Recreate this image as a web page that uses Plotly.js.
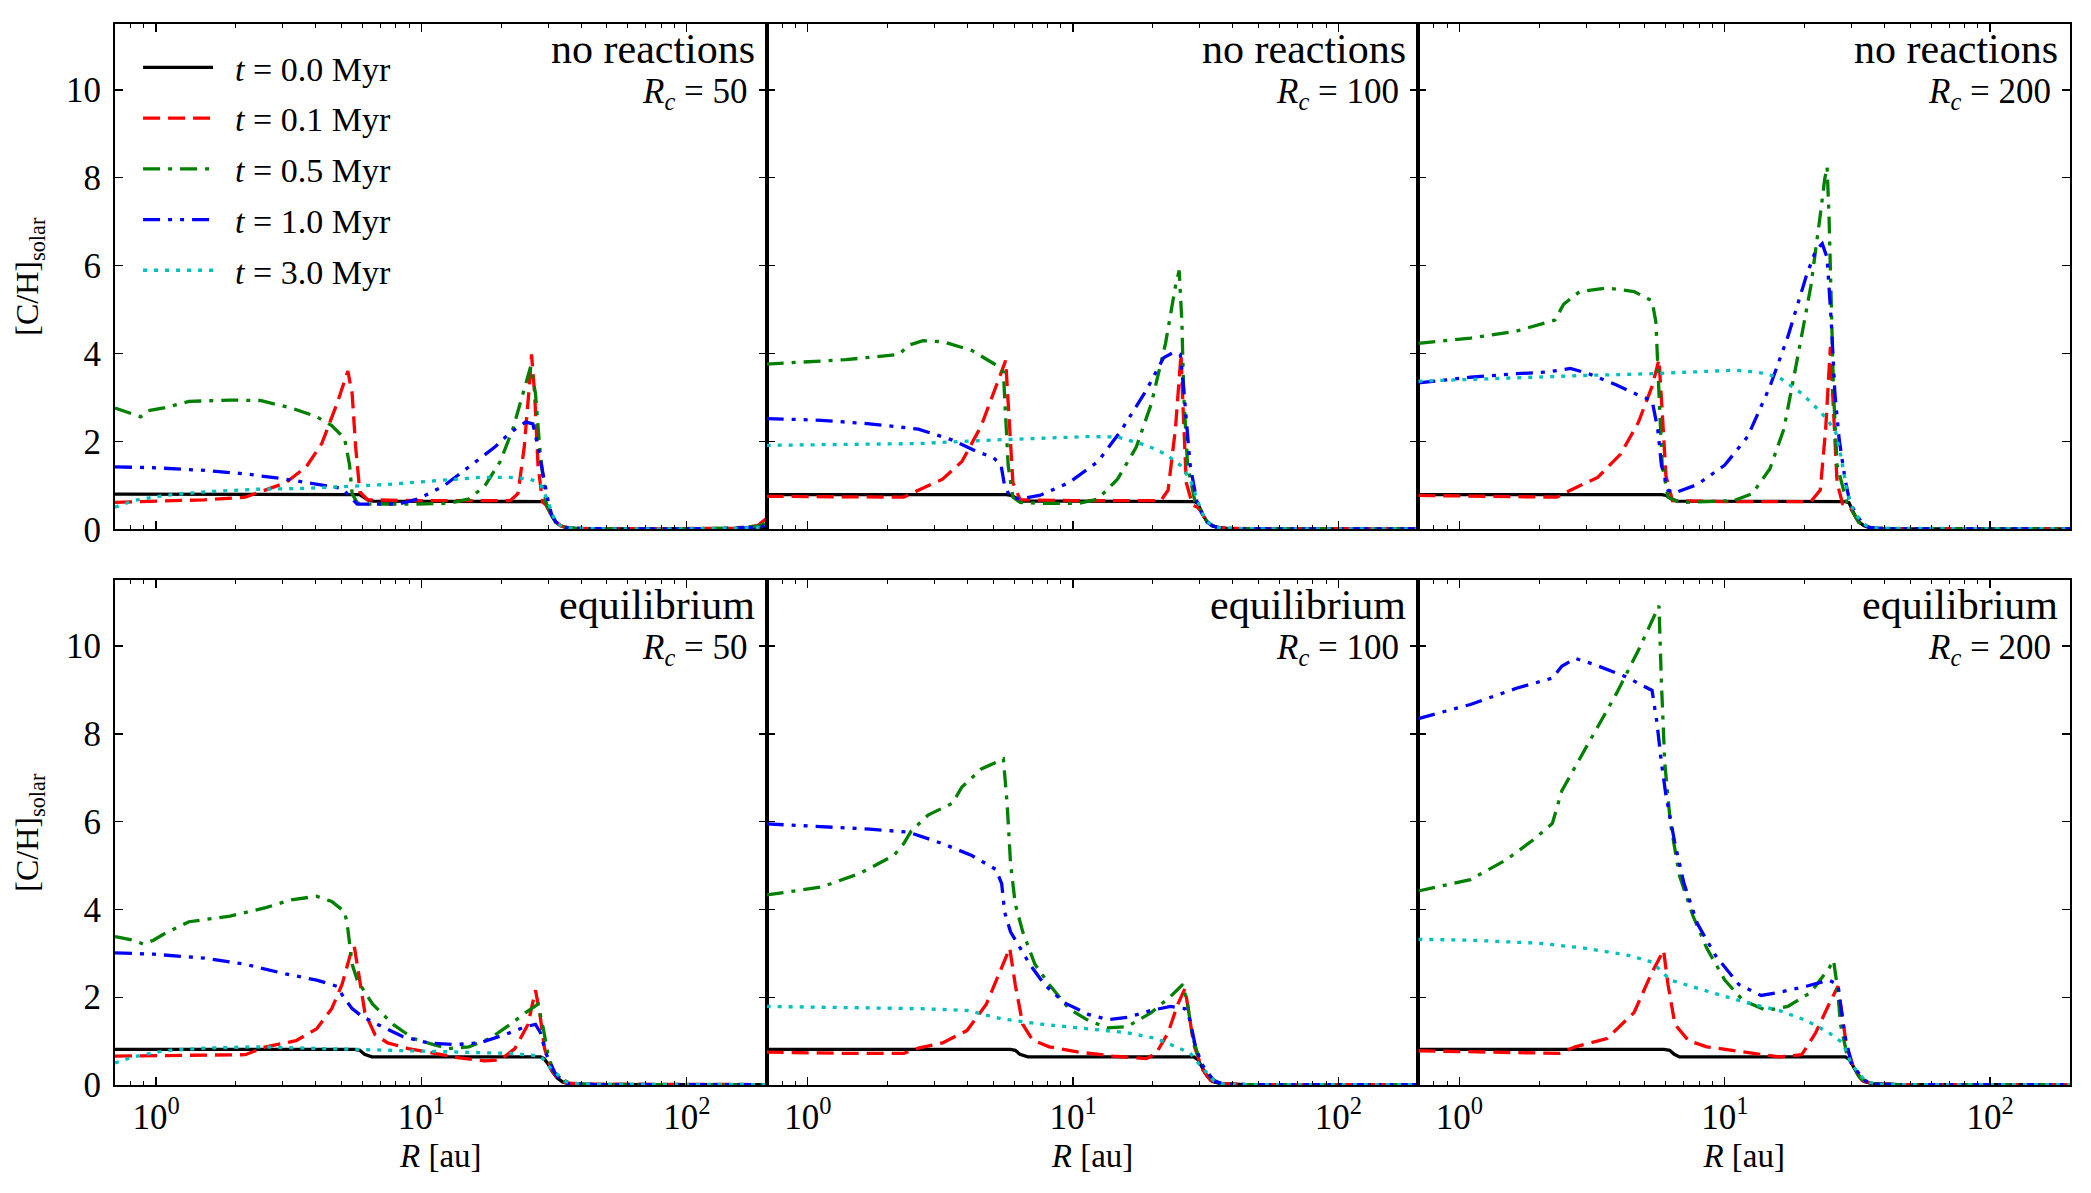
<!DOCTYPE html>
<html>
<head>
<meta charset="utf-8">
<script src="https://cdn.plot.ly/plotly-3.0.1.min.js"></script>
<style>
  html, body { margin: 0; padding: 0; background: #ffffff; }
  #chart { width: 2091px; height: 1193px; }
</style>
</head>
<body>
<div id="chart"></div>
<script>
// ---------------------------------------------------------------
// Labels
// ---------------------------------------------------------------
const times = ['0.0', '0.1', '0.5', '1.0', '3.0'];           // Myr
const chemModes = ['no reactions', 'equilibrium'];
const rcValues = [50, 100, 200];                             // R_c
const xTickVals = [1, 10, 100];
const xTickText = ['10<sup>0</sup>', '10<sup>1</sup>', '10<sup>2</sup>'];
const yTickVals = [0, 2, 4, 6, 8, 10];

// ---------------------------------------------------------------
// [C/H]_solar profiles, R in au
// ---------------------------------------------------------------
// no reactions, R_c = 50
const nr50_t00_R  = [0.7, 5.6, 5.85, 6.05, 6.3, 6.6, 10, 20, 28.6, 29.4, 30.2, 31, 32, 33.5, 35, 38, 50, 100, 150, 185, 200];
const nr50_t00_CH = [0.80, 0.80, 0.79, 0.73, 0.66, 0.64, 0.64, 0.64, 0.63, 0.60, 0.45, 0.30, 0.17, 0.08, 0.04, 0.02, 0.01, 0.01, 0.01, 0.02, 0.05];
const nr50_t01_R  = [0.7, 1.52, 2.17, 2.47, 3.08, 3.68, 4.21, 4.80, 5.28, 5.48, 5.65, 5.86, 6.27, 10, 21.6, 23.1, 24.4, 25.5, 26.0, 26.7, 27.5, 28.6, 29.4, 30.2, 31, 32, 33.5, 35, 38, 50, 100, 150, 185, 200];
const nr50_t01_CH = [0.61, 0.67, 0.73, 0.85, 1.06, 1.42, 1.95, 2.85, 3.60, 3.09, 1.87, 0.85, 0.67, 0.65, 0.65, 0.81, 1.87, 3.25, 3.98, 3.09, 1.46, 0.62, 0.56, 0.43, 0.29, 0.17, 0.08, 0.04, 0.02, 0.01, 0.01, 0.02, 0.08, 0.25];
const nr50_t05_R  = [0.7, 0.875, 0.935, 1.07, 1.33, 1.90, 2.47, 3.23, 4.03, 4.59, 5.13, 5.36, 5.48, 5.73, 6.27, 8.9, 12.7, 15.1, 17.3, 19.8, 22.1, 24.1, 25.8, 26.9, 27.9, 29.4, 30.2, 31, 32, 33.5, 35, 38, 50, 100, 150, 185, 200];
const nr50_t05_CH = [2.76, 2.56, 2.70, 2.76, 2.91, 2.94, 2.93, 2.76, 2.56, 2.36, 2.07, 1.46, 0.81, 0.60, 0.57, 0.57, 0.59, 0.69, 0.98, 1.54, 2.28, 3.09, 3.70, 3.09, 1.87, 0.62, 0.45, 0.30, 0.17, 0.08, 0.04, 0.02, 0.01, 0.01, 0.03, 0.07, 0.15];
const nr50_t10_R  = [0.7, 0.98, 1.52, 2.17, 3.08, 4.03, 5.02, 5.48, 5.73, 6.27, 8.17, 9.73, 12.1, 15.1, 18.9, 21.6, 24.7, 26.3, 27.5, 28.8, 30.1, 31, 32.1, 33.5, 35, 38, 50, 100, 150, 190, 200];
const nr50_t10_CH = [1.42, 1.40, 1.34, 1.26, 1.14, 1.02, 0.93, 0.69, 0.57, 0.57, 0.57, 0.69, 0.98, 1.42, 1.87, 2.20, 2.44, 2.40, 1.87, 1.22, 0.60, 0.32, 0.17, 0.08, 0.04, 0.02, 0.01, 0.01, 0.02, 0.05, 0.10];
const nr50_t30_R  = [0.7, 0.82, 1.07, 1.52, 2.37, 3.68, 5.48, 7.46, 11.1, 16.6, 21.6, 25.8, 28.1, 30.1, 31, 32.1, 33.5, 35, 38, 50, 100, 150, 200];
const nr50_t30_CH = [0.50, 0.65, 0.77, 0.85, 0.91, 0.93, 0.98, 1.02, 1.10, 1.18, 1.18, 1.14, 1.02, 0.62, 0.36, 0.18, 0.08, 0.04, 0.02, 0.01, 0.01, 0.02, 0.05];

// no reactions, R_c = 100
const nr100_t00_R  = [0.7, 5.6, 5.85, 6.1, 6.4, 10, 20, 28.6, 29.4, 30.2, 31, 32, 33.5, 35, 38, 50, 200];
const nr100_t00_CH = [0.79, 0.79, 0.77, 0.70, 0.64, 0.64, 0.64, 0.63, 0.60, 0.45, 0.30, 0.17, 0.08, 0.04, 0.02, 0.01, 0.01];
const nr100_t01_R  = [0.7, 1.39, 2.30, 2.61, 3.22, 3.81, 4.51, 5.12, 5.57, 5.77, 5.93, 6.32, 10, 21.4, 22.8, 24.3, 24.9, 25.5, 26.0, 26.7, 28.2, 29.4, 30.2, 31, 32, 33.5, 35, 38, 50, 200];
const nr100_t01_CH = [0.75, 0.73, 0.73, 0.89, 1.14, 1.54, 2.36, 3.25, 3.84, 2.28, 1.06, 0.67, 0.65, 0.65, 0.89, 2.28, 3.20, 3.98, 2.68, 1.06, 0.55, 0.50, 0.42, 0.29, 0.16, 0.08, 0.04, 0.02, 0.01, 0.01];
const nr100_t05_R  = [0.7, 1.39, 2.21, 2.40, 2.72, 3.22, 4.15, 5.12, 5.46, 5.57, 5.69, 5.93, 6.32, 7.48, 10.5, 12.4, 14.7, 17.3, 19.7, 22.3, 24.3, 25.1, 25.7, 26.1, 27.0, 28.8, 30.2, 31, 32, 33.5, 35, 38, 50, 200];
const nr100_t05_CH = [3.76, 3.86, 3.98, 4.19, 4.29, 4.27, 4.07, 3.74, 3.58, 2.68, 1.46, 0.73, 0.61, 0.59, 0.59, 0.69, 1.14, 1.87, 2.85, 4.23, 5.53, 5.89, 4.72, 3.09, 1.46, 0.62, 0.45, 0.30, 0.17, 0.08, 0.04, 0.02, 0.01, 0.01];
const nr100_t10_R  = [0.7, 1.125, 1.71, 2.61, 3.51, 4.33, 5.01, 5.35, 5.52, 5.81, 6.32, 7.48, 9.64, 12.4, 15.3, 18.9, 21.9, 23.8, 25.35, 26.2, 27.6, 29.4, 30.2, 31, 32, 33.5, 35, 38, 50, 200];
const nr100_t10_CH = [2.52, 2.48, 2.40, 2.28, 2.03, 1.77, 1.63, 1.46, 0.98, 0.73, 0.69, 0.77, 1.06, 1.54, 2.28, 3.17, 3.90, 4.02, 3.98, 3.09, 1.46, 0.57, 0.45, 0.30, 0.17, 0.08, 0.04, 0.02, 0.01, 0.01];
const nr100_t30_R  = [0.7, 1.39, 2.61, 4.91, 7.48, 11.4, 14.7, 18.9, 22.3, 25.35, 27.6, 29.4, 30.2, 31, 32, 33.5, 35, 38, 50, 200];
const nr100_t30_CH = [1.91, 1.93, 1.95, 2.03, 2.07, 2.11, 2.10, 1.91, 1.71, 1.46, 1.14, 0.65, 0.47, 0.31, 0.18, 0.08, 0.04, 0.02, 0.01, 0.01];

// no reactions, R_c = 200
const nr200_t00_R  = [0.7, 5.8, 6.0, 6.25, 6.6, 10, 20, 28.6, 29.4, 30.2, 31, 32, 33.5, 35, 38, 50, 200];
const nr200_t00_CH = [0.79, 0.79, 0.77, 0.70, 0.64, 0.64, 0.64, 0.63, 0.60, 0.45, 0.30, 0.17, 0.08, 0.04, 0.02, 0.01, 0.01];
const nr200_t01_R  = [0.7, 2.33, 2.62, 3.32, 4.05, 4.73, 5.32, 5.65, 5.81, 6.0, 6.35, 10, 21.1, 22.9, 24.0, 25.0, 25.7, 26.5, 27.8, 29.4, 30.2, 31, 32, 33.5, 35, 38, 50, 200];
const nr200_t01_CH = [0.77, 0.73, 0.89, 1.18, 1.71, 2.44, 3.25, 3.86, 2.68, 1.22, 0.65, 0.63, 0.63, 0.89, 2.28, 4.15, 2.68, 1.06, 0.58, 0.52, 0.42, 0.29, 0.16, 0.08, 0.04, 0.02, 0.01, 0.01];
const nr200_t05_R  = [0.7, 1.10, 1.64, 2.29, 2.47, 2.84, 3.60, 4.55, 5.32, 5.50, 5.65, 5.81, 6.11, 6.75, 10.8, 12.7, 14.8, 16.7, 18.8, 21.1, 22.9, 23.8, 24.3, 24.7, 25.2, 25.7, 26.5, 29.0, 30.2, 31, 32, 33.5, 35, 38, 50, 200];
const nr200_t05_CH = [4.23, 4.35, 4.51, 4.76, 5.12, 5.41, 5.49, 5.41, 5.20, 4.72, 3.09, 1.46, 0.73, 0.61, 0.65, 0.81, 1.38, 2.28, 3.90, 5.53, 7.15, 7.97, 8.25, 7.15, 5.12, 3.09, 1.46, 0.55, 0.42, 0.29, 0.16, 0.08, 0.04, 0.02, 0.01, 0.01];
const nr200_t10_R  = [0.7, 1.10, 1.64, 2.15, 2.62, 3.07, 3.89, 4.73, 5.32, 5.59, 5.77, 6.11, 6.49, 7.89, 10, 12.2, 14.8, 17.3, 20.3, 22.0, 23.3, 24.3, 25.2, 26.0, 27.0, 28.4, 29.4, 30.2, 31.3, 32, 33.5, 35, 38, 50, 200];
const nr200_t10_CH = [3.33, 3.46, 3.54, 3.58, 3.66, 3.54, 3.29, 3.05, 2.93, 2.28, 1.46, 0.89, 0.83, 1.02, 1.46, 2.11, 3.25, 4.39, 5.77, 6.34, 6.50, 6.18, 4.72, 3.09, 2.03, 1.14, 0.70, 0.52, 0.35, 0.25, 0.10, 0.04, 0.02, 0.01, 0.01];
const nr200_t30_R  = [0.7, 1.10, 1.64, 2.95, 5.32, 7.89, 10.8, 13.2, 16.0, 19.5, 22.9, 24.7, 26.2, 27.3, 29.0, 30.2, 31, 32.6, 34, 36, 40, 200];
const nr200_t30_CH = [3.37, 3.41, 3.46, 3.50, 3.54, 3.59, 3.62, 3.58, 3.46, 3.09, 2.68, 2.44, 2.20, 1.71, 0.81, 0.50, 0.35, 0.20, 0.09, 0.04, 0.02, 0.01];

// equilibrium, R_c = 50
const eq50_t00_R  = [0.7, 5.6, 5.86, 6.1, 6.5, 10, 20, 28.1, 29.0, 30.0, 31.0, 32.5, 34, 36, 45, 200];
const eq50_t00_CH = [0.81, 0.81, 0.79, 0.70, 0.64, 0.64, 0.64, 0.64, 0.60, 0.48, 0.32, 0.16, 0.07, 0.03, 0.01, 0.01];
const eq50_t01_R  = [0.7, 2.17, 2.59, 3.37, 4.03, 4.59, 5.02, 5.48, 5.58, 5.73, 6.12, 6.68, 7.46, 8.91, 11.1, 13.9, 17.3, 19.8, 22.5, 25.2, 26.9, 27.9, 29.1, 30.8, 32.5, 35, 40, 200];
const eq50_t01_CH = [0.66, 0.69, 0.87, 1.01, 1.28, 1.74, 2.29, 3.12, 3.17, 2.75, 1.65, 1.15, 0.96, 0.83, 0.73, 0.62, 0.55, 0.57, 0.83, 1.38, 2.16, 1.65, 0.83, 0.37, 0.15, 0.05, 0.02, 0.01];
const eq50_t05_R  = [0.7, 0.82, 0.895, 0.977, 1.07, 1.33, 1.90, 2.59, 3.23, 4.03, 4.59, 5.13, 5.25, 5.48, 5.73, 6.55, 7.82, 9.31, 11.1, 12.7, 15.1, 18.1, 21.6, 24.7, 27.5, 28.8, 30.1, 31.5, 33.6, 36.6, 45, 200];
const eq50_t05_CH = [3.38, 3.30, 3.21, 3.30, 3.44, 3.72, 3.85, 4.04, 4.22, 4.30, 4.18, 3.95, 3.67, 2.75, 2.39, 1.84, 1.38, 1.06, 0.92, 0.83, 0.87, 1.06, 1.38, 1.65, 1.84, 1.28, 0.64, 0.30, 0.14, 0.03, 0.01, 0.01];
const eq50_t10_R  = [0.7, 0.98, 1.52, 2.17, 3.08, 4.03, 4.80, 5.13, 5.48, 5.98, 6.84, 8.53, 10.6, 13.3, 16.6, 20.7, 24.7, 26.9, 28.1, 29.4, 32.1, 35.5, 45, 200];
const eq50_t10_CH = [3.01, 2.98, 2.89, 2.75, 2.53, 2.39, 2.25, 1.97, 1.74, 1.56, 1.38, 1.10, 0.96, 0.92, 0.96, 1.15, 1.33, 1.38, 1.19, 0.73, 0.23, 0.03, 0.01, 0.01];
const eq50_t30_R  = [0.7, 0.82, 1.07, 1.52, 2.37, 3.68, 5.73, 8.91, 13.9, 21.6, 28.1, 30.8, 35.1, 40, 200];
const eq50_t30_CH = [0.50, 0.64, 0.78, 0.84, 0.87, 0.84, 0.81, 0.78, 0.75, 0.72, 0.66, 0.37, 0.07, 0.02, 0.01];

// equilibrium, R_c = 100
const eq100_t00_R  = [0.7, 5.8, 6.05, 6.3, 6.75, 10, 20, 28.5, 29.5, 30.5, 32, 33.5, 36, 45, 200];
const eq100_t00_CH = [0.81, 0.81, 0.79, 0.70, 0.64, 0.64, 0.64, 0.64, 0.58, 0.42, 0.20, 0.08, 0.03, 0.01, 0.01];
const eq100_t01_R  = [0.7, 1.39, 2.30, 2.61, 3.22, 3.98, 4.71, 5.35, 5.77, 6.05, 6.46, 7.02, 8.13, 10.5, 14.1, 18.9, 20.6, 22.8, 24.8, 26.4, 27.2, 28.5, 30.6, 33, 36, 45, 200];
const eq100_t01_CH = [0.75, 0.72, 0.72, 0.84, 0.96, 1.24, 1.84, 2.66, 3.12, 2.29, 1.38, 1.03, 0.87, 0.75, 0.66, 0.60, 0.73, 1.19, 1.84, 2.20, 1.65, 0.92, 0.37, 0.10, 0.03, 0.01, 0.01];
const eq100_t05_R  = [0.7, 1.125, 1.57, 2.11, 2.30, 2.45, 2.84, 3.51, 3.81, 4.51, 5.46, 5.64, 5.81, 6.05, 6.46, 7.18, 8.13, 9.64, 11.4, 13.5, 16.0, 19.7, 23.3, 25.9, 27.0, 28.2, 30.0, 33.3, 36, 45, 200];
const eq100_t05_CH = [4.33, 4.51, 4.82, 5.23, 5.50, 5.78, 6.15, 6.42, 6.79, 7.20, 7.43, 6.42, 5.05, 4.13, 3.49, 2.75, 2.29, 1.74, 1.47, 1.30, 1.33, 1.65, 2.02, 2.29, 1.84, 1.10, 0.55, 0.14, 0.03, 0.01, 0.01];
const eq100_t10_R  = [0.7, 1.125, 1.71, 2.40, 3.22, 4.15, 5.12, 5.38, 5.52, 5.81, 6.32, 6.87, 7.80, 9.23, 11.4, 13.5, 16.0, 19.7, 23.3, 26.4, 27.6, 28.8, 30.6, 34.0, 37, 45, 200];
const eq100_t10_CH = [5.95, 5.89, 5.83, 5.76, 5.50, 5.23, 4.91, 4.59, 3.94, 3.49, 3.12, 2.75, 2.29, 1.88, 1.61, 1.49, 1.54, 1.70, 1.79, 1.74, 1.47, 0.92, 0.46, 0.09, 0.02, 0.01, 0.01];
const eq100_t30_R  = [0.7, 1.39, 2.61, 3.98, 5.35, 7.48, 11.4, 16.0, 20.6, 24.3, 27.6, 30.0, 34.0, 37, 45, 200];
const eq100_t30_CH = [1.79, 1.76, 1.74, 1.70, 1.51, 1.39, 1.28, 1.19, 1.06, 0.87, 0.73, 0.46, 0.09, 0.02, 0.01, 0.01];

// equilibrium, R_c = 200
const eq200_t00_R  = [0.7, 5.9, 6.2, 6.45, 6.75, 10, 20, 28.5, 29.5, 30.5, 32, 33.5, 36, 45, 200];
const eq200_t00_CH = [0.81, 0.81, 0.79, 0.70, 0.64, 0.64, 0.64, 0.64, 0.58, 0.42, 0.20, 0.08, 0.03, 0.01, 0.01];
const eq200_t01_R  = [0.7, 1.64, 2.38, 2.73, 3.60, 4.55, 5.32, 5.88, 6.11, 6.49, 7.30, 8.55, 11.7, 16.0, 19.5, 22.0, 24.7, 26.7, 27.6, 28.7, 30.7, 33, 36, 45, 200];
const eq200_t01_CH = [0.78, 0.73, 0.72, 0.87, 1.06, 1.65, 2.57, 3.07, 2.29, 1.38, 1.01, 0.87, 0.75, 0.64, 0.69, 1.19, 1.84, 2.25, 1.65, 0.92, 0.37, 0.10, 0.03, 0.01, 0.01];
const eq200_t05_R  = [0.7, 1.10, 1.51, 1.91, 2.24, 2.43, 2.73, 3.19, 3.89, 4.73, 5.32, 5.65, 5.77, 5.94, 6.24, 6.75, 7.59, 8.55, 10, 11.7, 14.3, 17.3, 21.1, 24.7, 25.7, 26.6, 27.3, 29.0, 32.6, 36, 45, 200];
const eq200_t05_CH = [4.42, 4.68, 5.14, 5.60, 5.96, 6.70, 7.25, 7.98, 8.90, 9.91, 10.55, 10.92, 9.17, 7.34, 5.96, 4.77, 3.85, 3.12, 2.39, 1.93, 1.70, 1.79, 2.11, 2.66, 2.84, 2.20, 1.38, 0.64, 0.14, 0.03, 0.01, 0.01];
const eq200_t10_R  = [0.7, 1.10, 1.64, 2.24, 2.43, 2.73, 3.19, 4.21, 5.32, 5.55, 5.77, 6.00, 6.49, 7.02, 7.89, 9.25, 11.3, 13.7, 16.0, 20.3, 24.7, 26.7, 27.3, 28.4, 30.1, 33.9, 37, 45, 200];
const eq200_t10_CH = [8.35, 8.67, 9.04, 9.27, 9.54, 9.72, 9.59, 9.31, 8.99, 8.26, 7.34, 6.61, 5.50, 4.59, 3.67, 2.94, 2.29, 2.04, 2.11, 2.25, 2.39, 2.29, 1.84, 1.10, 0.46, 0.09, 0.02, 0.01, 0.01];
const eq200_t30_R  = [0.7, 1.10, 1.99, 2.95, 4.38, 5.32, 6.24, 7.89, 10, 12.7, 16.0, 20.3, 24.7, 27.8, 30.1, 33.9, 37, 45, 200];
const eq200_t30_CH = [3.32, 3.30, 3.23, 3.12, 2.95, 2.80, 2.39, 2.20, 2.02, 1.84, 1.70, 1.47, 1.19, 0.96, 0.46, 0.09, 0.02, 0.01, 0.01];

// ---------------------------------------------------------------
// Panel order: top row "no reactions", bottom row "equilibrium"
// ---------------------------------------------------------------
const panels = [
  [[nr50_t00_R, nr50_t00_CH], [nr50_t01_R, nr50_t01_CH], [nr50_t05_R, nr50_t05_CH], [nr50_t10_R, nr50_t10_CH], [nr50_t30_R, nr50_t30_CH]],
  [[nr100_t00_R, nr100_t00_CH], [nr100_t01_R, nr100_t01_CH], [nr100_t05_R, nr100_t05_CH], [nr100_t10_R, nr100_t10_CH], [nr100_t30_R, nr100_t30_CH]],
  [[nr200_t00_R, nr200_t00_CH], [nr200_t01_R, nr200_t01_CH], [nr200_t05_R, nr200_t05_CH], [nr200_t10_R, nr200_t10_CH], [nr200_t30_R, nr200_t30_CH]],
  [[eq50_t00_R, eq50_t00_CH], [eq50_t01_R, eq50_t01_CH], [eq50_t05_R, eq50_t05_CH], [eq50_t10_R, eq50_t10_CH], [eq50_t30_R, eq50_t30_CH]],
  [[eq100_t00_R, eq100_t00_CH], [eq100_t01_R, eq100_t01_CH], [eq100_t05_R, eq100_t05_CH], [eq100_t10_R, eq100_t10_CH], [eq100_t30_R, eq100_t30_CH]],
  [[eq200_t00_R, eq200_t00_CH], [eq200_t01_R, eq200_t01_CH], [eq200_t05_R, eq200_t05_CH], [eq200_t10_R, eq200_t10_CH], [eq200_t30_R, eq200_t30_CH]]
];

// Line style per snapshot (black solid, red dashed, green dash-dot, blue dash-dot-dot, cyan dotted)
const lineColors = ['#000000', '#ff0000', '#008000', '#0000ff', '#00bfbf'];
const lineDashes = ['solid', '17px,8px', '17px,8px,4px,8px', '17px,8px,4px,8px,4px,8px', '4px,7px'];
const LINE_W = 3.3;

const FONT = 'Liberation Serif';

// minor tick positions on the log R axis (2..9 within each decade)
const xMinorTicks = [];
for (let dec = -1; dec <= 2; dec++) {
  for (let d = 2; d <= 9; d++) {
    const v = d * Math.pow(10, dec);
    if (v >= 0.7 && v <= 200) xMinorTicks.push(v);
  }
}

const traces = [];
panels.forEach((series, p) => {
  const ax = p === 0 ? '' : String(p + 1);
  series.forEach((s, k) => {
    traces.push({
      type: 'scatter',
      mode: 'lines',
      x: s[0],
      y: s[1],
      xaxis: 'x' + ax,
      yaxis: 'y' + ax,
      // leading no-break spaces widen the gap between sample line and label
      name: '\u00a0\u00a0<i>t</i> = ' + times[k] + ' Myr',
      legendgroup: 'g' + k,
      showlegend: p === 0,
      line: { color: lineColors[k], width: LINE_W, dash: lineDashes[k] },
      hoverinfo: 'skip'
    });
  });
});

const layout = {
  width: 2091,
  height: 1193,
  margin: { l: 115, r: 21, t: 23.5, b: 108, pad: 0 },
  paper_bgcolor: '#ffffff',
  plot_bgcolor: '#ffffff',
  font: { family: FONT, color: '#000000', size: 33 },
  showlegend: true,
  legend: {
    x: 0.0118, y: 0.986, xanchor: 'left', yanchor: 'top',
    bgcolor: 'rgba(0,0,0,0)', borderwidth: 0,
    font: { family: FONT, size: 34, color: '#000000' },
    itemwidth: 70, tracegroupgap: 3.5
  },
  annotations: []
};

const rowDomains = [[0.5238, 1], [0, 0.4757]];

for (let p = 0; p < 6; p++) {
  const row = p < 3 ? 0 : 1;
  const col = p % 3;
  const ax = p === 0 ? '' : String(p + 1);
  const xa = {
    type: 'log',
    domain: [col / 3, (col + 1) / 3],
    anchor: 'y' + ax,
    range: [Math.log10(0.7), Math.log10(200)],
    tickmode: 'array',
    tickvals: xTickVals,
    ticktext: xTickText,
    showticklabels: row === 1,
    ticks: 'inside', ticklen: 8, tickwidth: 1.3, tickcolor: '#000',
    minor: { tickmode: 'array', tickvals: xMinorTicks, ticks: 'inside', ticklen: 4, tickwidth: 1, tickcolor: '#000', showgrid: false },
    showline: true, linecolor: '#000', linewidth: 2, mirror: 'allticks',
    showgrid: false, zeroline: false,
    tickfont: { family: FONT, size: 35, color: '#000' }
  };
  if (row === 1) {
    xa.title = { text: '<i>R</i> [au]', font: { family: FONT, size: 33, color: '#000' }, standoff: 8 };
  }
  const ya = {
    domain: rowDomains[row],
    anchor: 'x' + ax,
    range: [0, 11.5],
    tickmode: 'array',
    tickvals: yTickVals,
    showticklabels: col === 0,
    ticklabelstandoff: 5,
    ticks: 'inside', ticklen: 8, tickwidth: 1.3, tickcolor: '#000',
    showline: true, linecolor: '#000', linewidth: 2, mirror: 'allticks',
    showgrid: false, zeroline: false,
    tickfont: { family: FONT, size: 35, color: '#000' }
  };
  if (col === 0) {
    ya.title = { text: '[C/H]<sub>solar</sub>', font: { family: FONT, size: 32, color: '#000' }, standoff: 18 };
  }
  layout['xaxis' + ax] = xa;
  layout['yaxis' + ax] = ya;

  // panel labels in the upper right corner: chemistry mode, then R_c
  layout.annotations.push({
    text: chemModes[row],
    xref: 'x' + ax + ' domain', yref: 'y' + ax + ' domain',
    x: 1, y: 1, xanchor: 'right', yanchor: 'middle',
    xshift: -11, yshift: -25, borderpad: 0,
    showarrow: false,
    font: { family: FONT, size: 42, color: '#000' }
  });
  layout.annotations.push({
    text: '<i>R<sub>c</sub></i> = ' + rcValues[col],
    xref: 'x' + ax + ' domain', yref: 'y' + ax + ' domain',
    x: 1, y: 1, xanchor: 'right', yanchor: 'middle',
    xshift: -18, yshift: -69, borderpad: 0,
    showarrow: false,
    font: { family: FONT, size: 35, color: '#000' }
  });
}

Plotly.newPlot('chart', traces, layout, { displayModeBar: false, staticPlot: true });
</script>
</body>
</html>
